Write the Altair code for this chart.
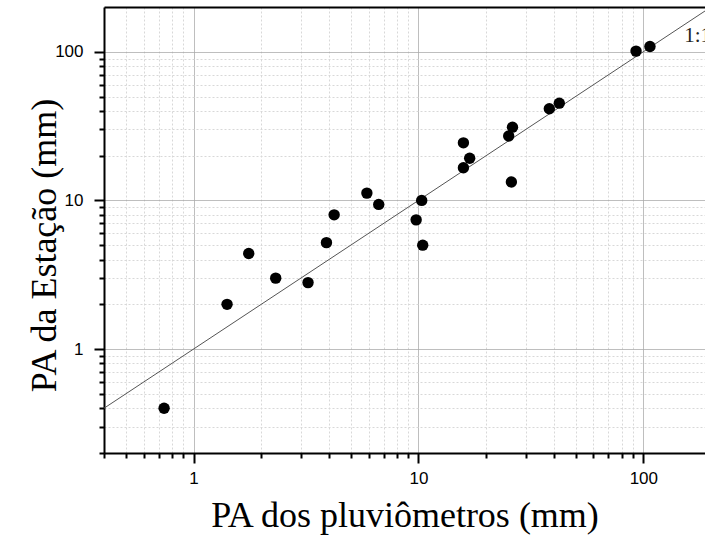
import altair as alt
import pandas as pd

# Precipitation (mm): rain gauges vs. weather station
pluviometros = [0.74, 1.41, 1.76, 2.32, 3.23, 3.90, 4.22, 5.90, 6.66, 9.77, 10.34,
                10.45, 15.85, 15.85, 16.9, 25.2, 25.9, 26.2, 38.2, 42.3, 92.8, 107.0]
estacao = [0.40, 2.0, 4.4, 3.0, 2.8, 5.2, 8.0, 11.2, 9.4, 7.4, 10.0,
           5.0, 24.4, 16.6, 19.2, 27.1, 13.3, 31.1, 41.4, 45.1, 101.0, 108.5]

# Log-axis tick positions (majors get labels)
x_ticks = [0.4, 0.5, 0.6, 0.7, 0.8, 0.9,
           1, 2, 3, 4, 5, 6, 7, 8, 9,
           10, 20, 30, 40, 50, 60, 70, 80, 90, 100]
y_ticks = [0.2, 0.3, 0.4, 0.5, 0.6, 0.7, 0.8, 0.9,
           1, 2, 3, 4, 5, 6, 7, 8, 9,
           10, 20, 30, 40, 50, 60, 70, 80, 90, 100]

X_DOMAIN = [0.4, 188]
Y_DOMAIN = [0.2, 200]

W, H = 601, 446

points = pd.DataFrame({"pluv": pluviometros, "est": estacao})
identity = pd.DataFrame({"pluv": X_DOMAIN, "est": X_DOMAIN})
label_df = pd.DataFrame({"pluv": [152], "est": [115.5], "txt": ["1:1"]})

MAJOR = "abs(log(datum.value)/LN10 - round(log(datum.value)/LN10)) < 1e-6"

x_scale = alt.Scale(type="log", domain=X_DOMAIN, nice=False)
y_scale = alt.Scale(type="log", domain=Y_DOMAIN, nice=False)


def log_axis(values, title, **kw):
    return alt.Axis(
        values=values,
        format="~g",
        labelExpr=f"({MAJOR}) ? datum.label : ''",
        title=title,
        tickSize={"condition": {"test": MAJOR, "value": 10}, "value": 5},
        tickWidth=2,
        tickColor="black",
        domainColor="black",
        domainWidth=2,
        grid=True,
        gridColor={"condition": {"test": MAJOR, "value": "#a8a8a8"}, "value": "#d8d8d8"},
        gridDash={"condition": {"test": MAJOR, "value": [1, 0]}, "value": [2, 2]},
        gridWidth=1,
        labelFont="Liberation Sans",
        labelFontSize=17,
        labelColor="black",
        labelFlush=False,
        labelOverlap=False,
        titleFont="Liberation Serif",
        titleFontSize=36,
        titleFontWeight="normal",
        titleColor="black",
        titleBaseline="alphabetic",
        **kw,
    )


y_axis = log_axis(y_ticks, "PA da Estação (mm)", orient="left",
                  labelPadding=11, titleX=-49, titleY=238)

scatter = alt.Chart(points).mark_circle(size=130, color="black", opacity=1).encode(
    x=alt.X("pluv:Q", scale=x_scale,
            axis=log_axis(x_ticks, "PA dos pluviômetros (mm)", orient="bottom",
                          labelPadding=7, titleY=73)),
    y=alt.Y("est:Q", scale=y_scale, axis=y_axis),
)

# 1:1 reference line, with the top frame as a bare axis
one_to_one = alt.Chart(identity).mark_line(color="#555555", strokeWidth=1).encode(
    x=alt.X("pluv:Q", scale=x_scale,
            axis=alt.Axis(orient="top", labels=False, ticks=False, grid=False, title=None,
                          domainColor="black", domainWidth=2)),
    y=alt.Y("est:Q", scale=y_scale, axis=y_axis),
)

label = alt.Chart(label_df).mark_text(
    font="Liberation Serif", fontSize=21, color="#222222", align="left", baseline="alphabetic"
).encode(
    x=alt.X("pluv:Q", scale=x_scale, axis=None),
    y=alt.Y("est:Q", scale=y_scale, axis=y_axis),
    text="txt:N",
)

chart = (
    alt.layer(one_to_one, scatter, label)
    .resolve_axis(x="independent")
    .properties(
        width=W,
        height=H,
        padding={"left": 104, "top": 7, "right": 0, "bottom": 87},
        autosize=alt.AutoSizeParams(type="none"),
        background="white",
    )
    .configure_view(stroke=None)
)

chart.save("out.html", embed_options={"renderer": "svg", "actions": False})
